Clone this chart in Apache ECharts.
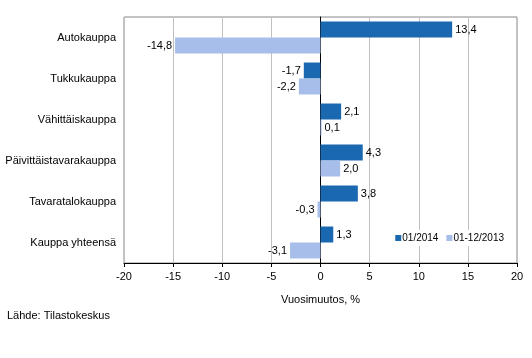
<!DOCTYPE html>
<html><head><meta charset="utf-8">
<script src="https://cdn.jsdelivr.net/npm/echarts@6/dist/echarts.min.js"></script>
<style>html,body{margin:0;padding:0;background:#fff}#c{width:532px;height:358px}</style>
</head><body><div id="c"></div>
<script>
const categories = ['Autokauppa','Tukkukauppa','Vähittäiskauppa','Päivittäistavarakauppa','Tavaratalokauppa','Kauppa yhteensä'];
const series2014 = [13.4, -1.7, 2.1, 4.3, 3.8, 1.3];
const series2013 = [-14.8, -2.2, 0.1, 2.0, -0.3, -3.1];
const seriesNames = ['01/2014', '01-12/2013'];
const xTicks = [-20, -15, -10, -5, 0, 5, 10, 15, 20];

const font = 'Liberation Sans, Arial, sans-serif';
const fmt = v => String(v.toFixed(1)).replace('.', ',');
function mk(arr) {
  return arr.map(v => ({ value: v, label: { position: v >= 0 ? 'right' : 'left' } }));
}
const chart = echarts.init(document.getElementById('c'));
chart.setOption({
  animation: false,
  textStyle: { fontFamily: font },
  grid: { left: 124, right: 15, top: 17, bottom: 95, show: true, borderColor: '#888', borderWidth: 1, backgroundColor: 'transparent' },
  legend: {
    data: seriesNames, right: 26, top: 230, itemWidth: 6, itemHeight: 6, itemGap: 8,
    icon: 'rect', backgroundColor: '#fff', padding: [3, 2, 3, 2],
    textStyle: { fontSize: 10, fontFamily: font, color: '#000', padding: [0, 0, 0, -4] }
  },
  xAxis: {
    type: 'value', min: xTicks[0], max: xTicks[xTicks.length - 1], interval: 5,
    name: 'Vuosimuutos, %', nameLocation: 'middle', nameGap: 31,
    nameTextStyle: { fontSize: 11, color: '#000', fontFamily: font },
    axisLine: { show: true, lineStyle: { color: '#000' } },
    axisTick: { show: true, length: 4, lineStyle: { color: '#000' } },
    axisLabel: { fontSize: 11, color: '#000', margin: 8, fontFamily: font },
    splitLine: { show: true, lineStyle: { color: '#c0c0c0' } }
  },
  yAxis: {
    type: 'category', data: categories, inverse: true,
    axisLine: { show: true, onZero: true, lineStyle: { color: '#000' } },
    axisTick: { show: false },
    axisLabel: { fontSize: 11, color: '#000', margin: 8, fontFamily: font },
    splitLine: { show: false }
  },
  series: [
    { name: seriesNames[0], type: 'bar', data: mk(series2014), barGap: '0%', barCategoryGap: '22%',
      itemStyle: { color: '#1a68b0' },
      label: { show: true, fontSize: 11, color: '#000', distance: 3, fontFamily: font, formatter: p => fmt(p.value) } },
    { name: seriesNames[1], type: 'bar', data: mk(series2013), barGap: '0%', barCategoryGap: '22%',
      itemStyle: { color: '#a7bdea' },
      label: { show: true, fontSize: 11, color: '#000', distance: 3, fontFamily: font, formatter: p => fmt(p.value) } }
  ],
  graphic: [
    { type: 'text', left: 7, top: 310, style: { text: 'Lähde: Tilastokeskus', fontSize: 11, fill: '#000', fontFamily: font } }
  ]
});
</script></body></html>
